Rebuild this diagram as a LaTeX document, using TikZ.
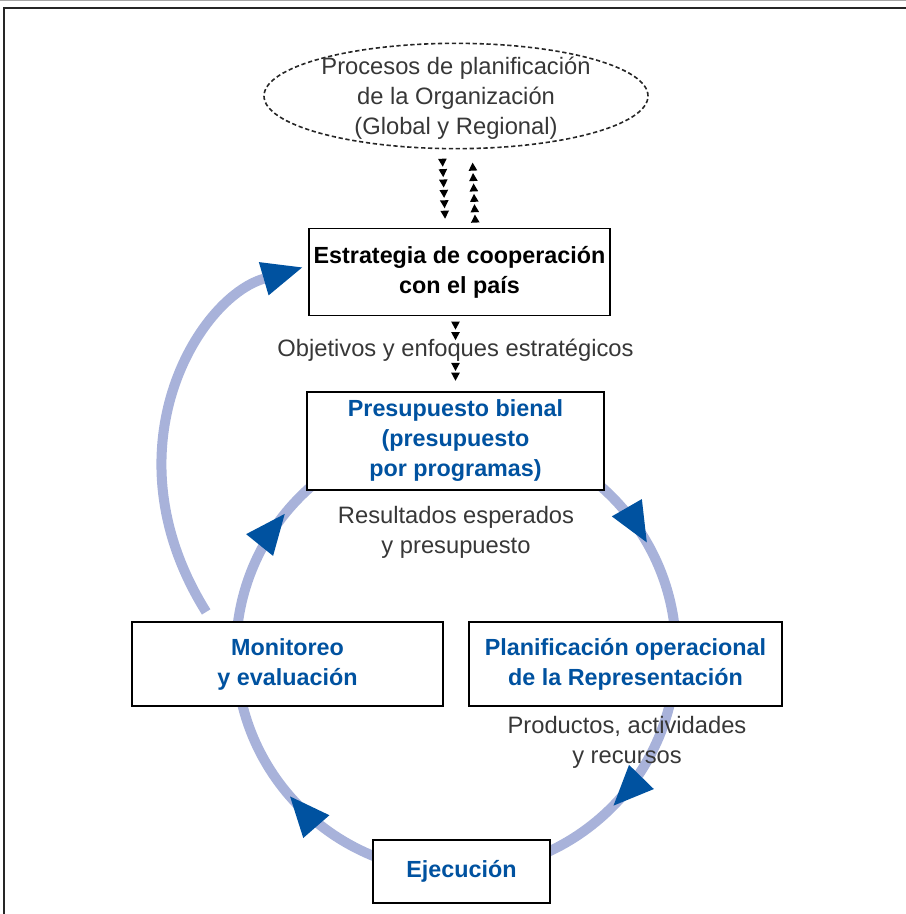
\documentclass[tikz,border=0pt]{standalone}
\usepackage{fontspec}
\setmainfont{Liberation Sans}
\usetikzlibrary{positioning,arrows.meta,shapes.geometric,decorations.markings}
\definecolor{ringblue}{RGB}{168,178,218}
\definecolor{tipblue}{RGB}{0,82,160}
\definecolor{txtgray}{RGB}{55,55,55}
\tikzset{bigtip/.tip={Triangle[length=30pt,width=26pt,line width=0pt,color=tipblue]},
smalltip/.tip={Triangle[length=6pt,width=6.5pt,line width=0pt,color=black]}}
\begin{document}
\begin{tikzpicture}[x=0.75pt,y=-0.75pt,
every node/.style={align=center,text=txtgray,font=\fontsize{17.8}{22.5}\selectfont},
box/.style={draw=black,line width=1.1pt,fill=white,inner sep=0pt,
  font=\fontsize{17.5}{22.5}\selectfont\bfseries,text=tipblue},
ring/.style={draw=ringblue,line width=7.5pt}]
\useasboundingbox (0,0) rectangle (906,914);
\draw[black!35,line width=0.8pt] (0,0.5) -- (906,0.5);
\draw[black!85,line width=1.1pt] (906,8) -- (4,8) -- (4,914);
\draw[ring,postaction={decorate},decoration={markings,
  mark=at position 0.123 with {\arrow{bigtip}},
  mark=at position 0.386 with {\arrow{bigtip}},
  mark=at position 0.608 with {\arrow{bigtip}},
  mark=at position 0.917 with {\arrow{bigtip}}}] (456,652) circle (220);
\node[draw=black!85,dash pattern=on 3.2pt off 2pt,line width=1.2pt,ellipse,text depth=0pt,
  minimum width=288pt,minimum height=79pt,inner xsep=0pt,inner ysep=-3.5pt] (planif) at (456,96)
  {Procesos de planificación\\de la Organización\\(Global y Regional)};
\node[box,text=black,minimum width=226pt,minimum height=65pt] (estrategia) at (459.5,272)
  {Estrategia de cooperación\\con el país};
\node[box,minimum width=223pt,minimum height=73.5pt] (presupuesto) at (455.5,441)
  {Presupuesto bienal\\(presupuesto\\por programas)};
\node[box,minimum width=233pt,minimum height=63pt] (monitoreo) at (287.5,664)
  {Monitoreo\\y evaluación};
\node[box,minimum width=235pt,minimum height=63pt] (planop) at (625.5,664)
  {Planificación operacional\\de la Representación};
\node[box,minimum width=133pt,minimum height=47pt] (ejecucion) at (461.5,871.5)
  {Ejecución};
\node (resultados) at (456,532) {Resultados esperados\\y presupuesto};
\node (productos) at (627,742) {Productos, actividades\\y recursos};
\path[postaction={decorate},decoration={markings,
  mark=between positions 0.22 and 0.95 step 7.8pt with {\arrow{smalltip}}}]
  ([xshift=-10.5pt]planif.south) -- ([xshift=-10.5pt]estrategia.north);
\path[postaction={decorate},decoration={markings,
  mark=between positions 0.17 and 0.88 step 7.8pt with {\arrow{smalltip}}}]
  ([xshift=12pt]estrategia.north) -- ([xshift=12pt]planif.south);
\path[postaction={decorate},decoration={markings,
  mark=at position 0.18 with {\arrow{smalltip}},
  mark=at position 0.32 with {\arrow{smalltip}},
  mark=at position 0.73 with {\arrow{smalltip}},
  mark=at position 0.86 with {\arrow{smalltip}}}]
  (estrategia.south -| presupuesto.north) -- node[pos=0.45] (objetivos) {Objetivos y enfoques estratégicos}
  (presupuesto.north);
\draw[ring,-bigtip] ([xshift=-61pt,yshift=7pt]monitoreo.north)
  .. controls (105,450) and (198,298) .. ([xshift=-4.5pt,yshift=3.4pt]estrategia.west);
\end{tikzpicture}
\end{document}
